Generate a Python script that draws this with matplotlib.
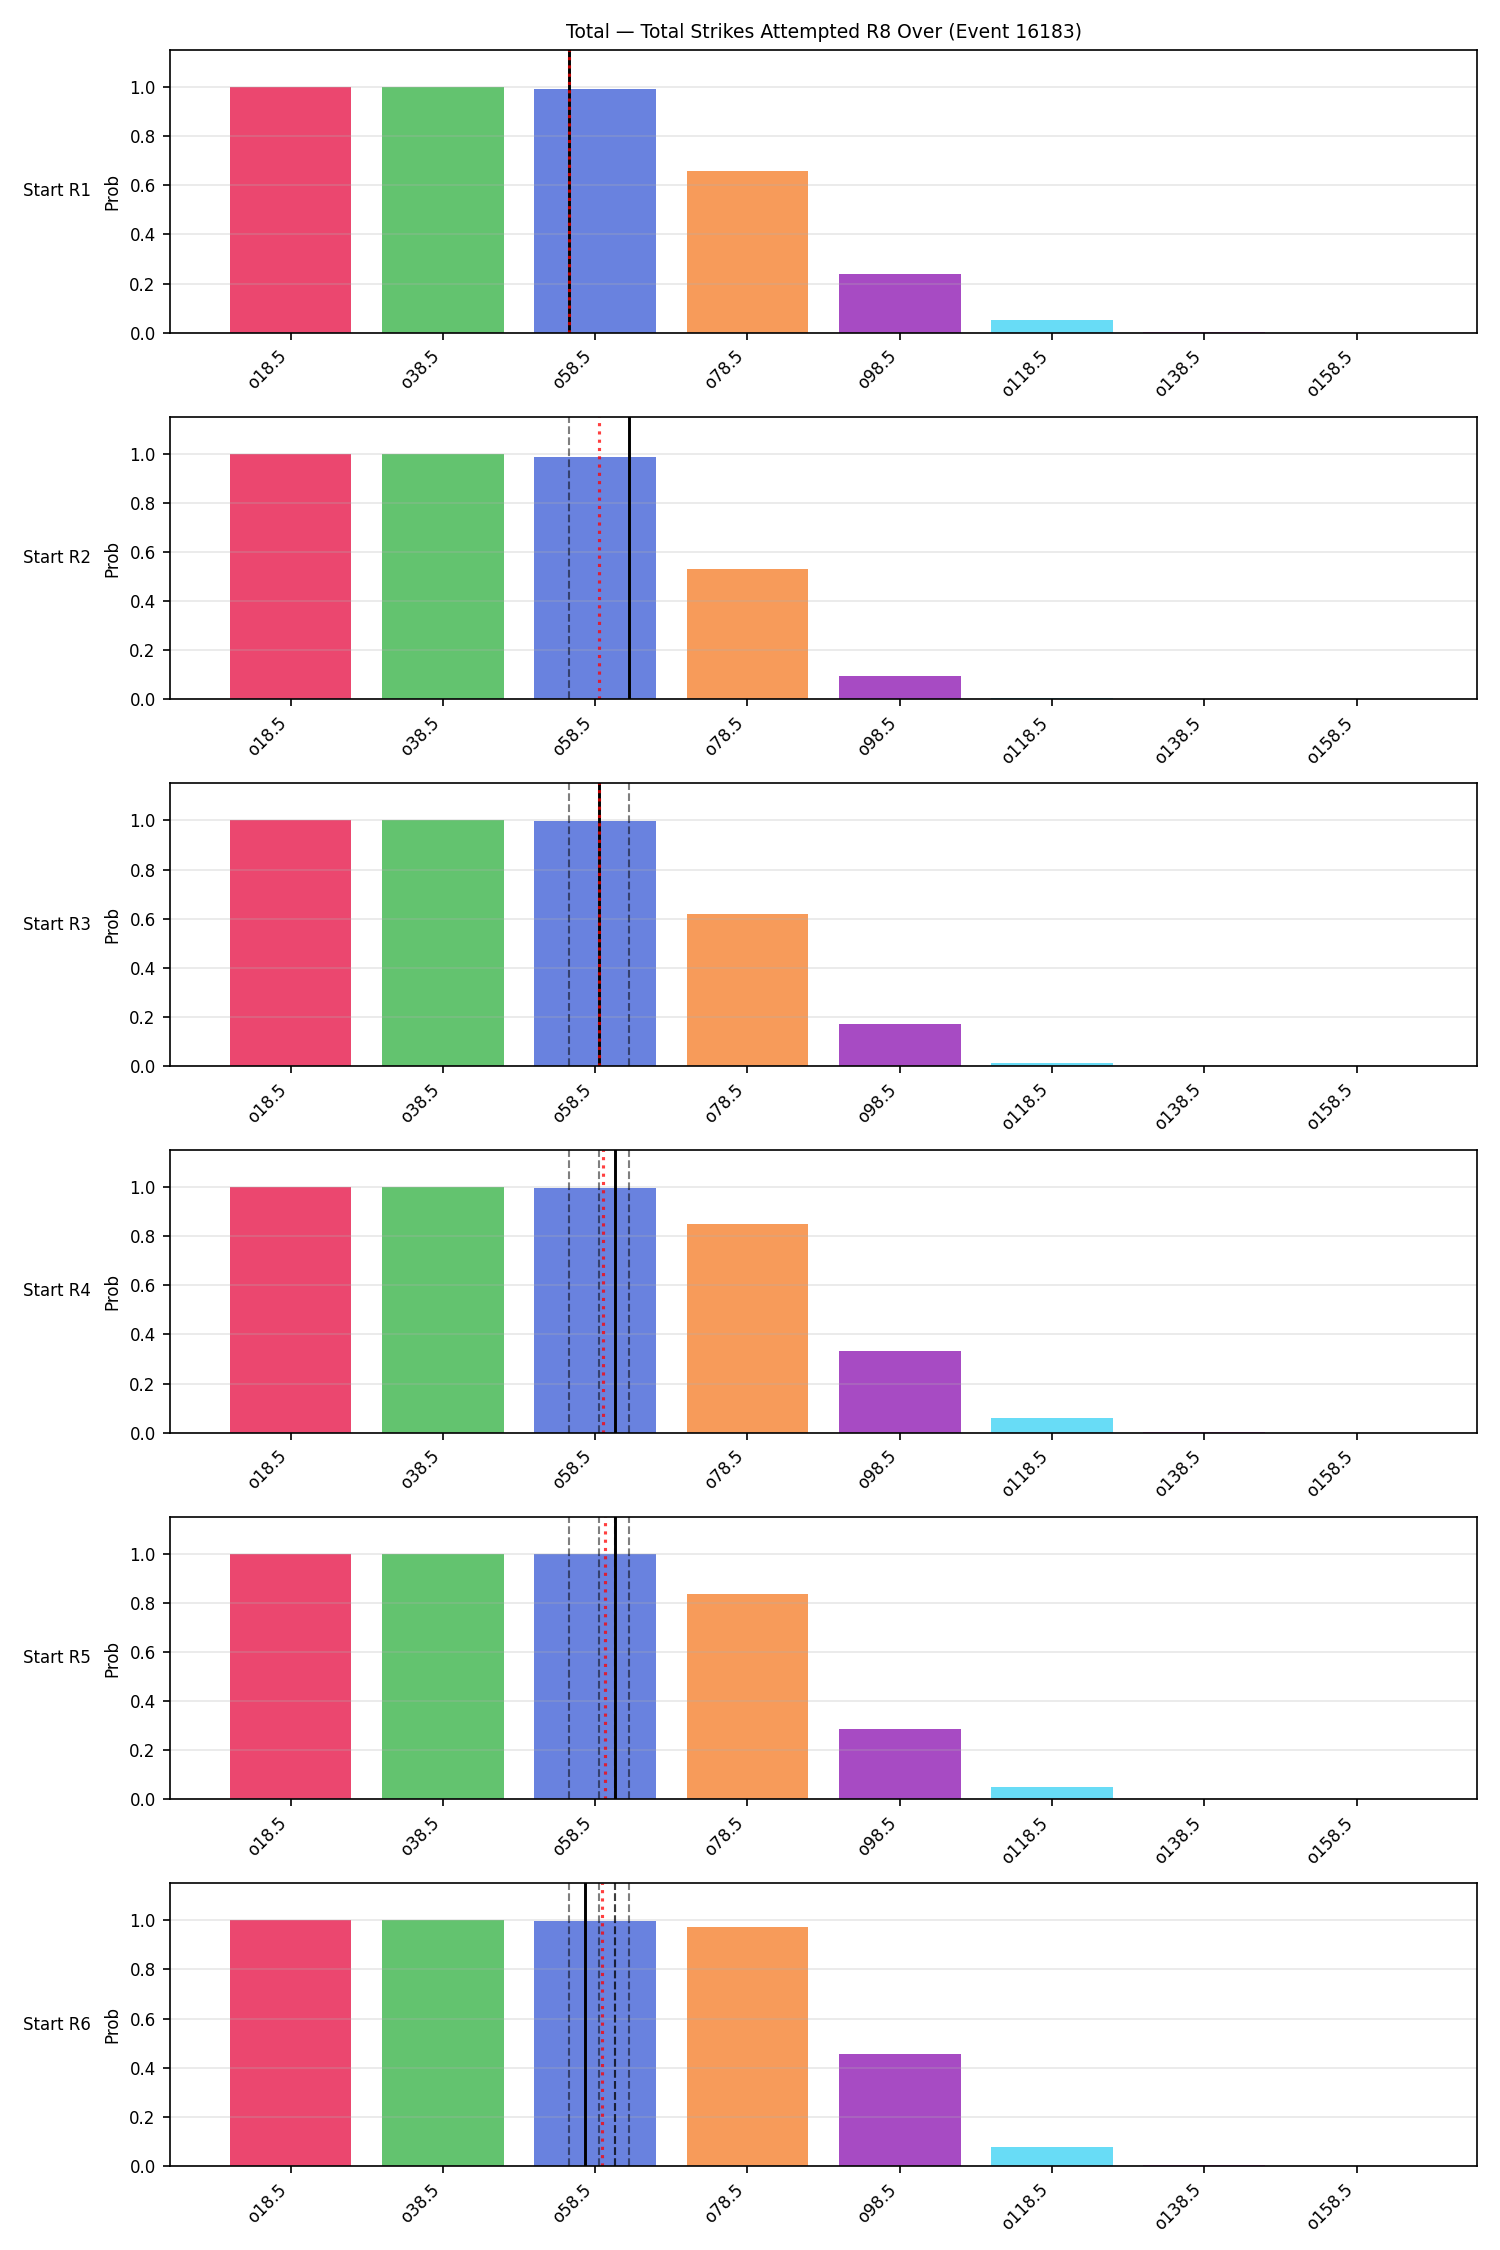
import matplotlib
matplotlib.use("Agg")
import matplotlib.pyplot as plt
import numpy as np

TITLE = "Total \u2014 Total Strikes Attempted R8 Over (Event 16183)"
lines = ["o18.5", "o38.5", "o58.5", "o78.5", "o98.5", "o118.5", "o138.5", "o158.5"]
line_values = [18.5, 38.5, 58.5, 78.5, 98.5, 118.5, 138.5, 158.5]
rounds = ["Start R1", "Start R2", "Start R3", "Start R4", "Start R5", "Start R6"]

# P(over) per line, one list per round start
probs_r1 = [1.0, 1.0, 0.991, 0.657, 0.240, 0.053, 0.002, 0.0]
probs_r2 = [1.0, 1.0, 0.985, 0.530, 0.094, 0.006, 0.0, 0.0]
probs_r3 = [1.0, 1.0, 0.998, 0.620, 0.170, 0.011, 0.0, 0.0]
probs_r4 = [1.0, 1.0, 0.998, 0.850, 0.334, 0.059, 0.004, 0.0]
probs_r5 = [1.0, 1.0, 0.998, 0.834, 0.287, 0.050, 0.001, 0.0]
probs_r6 = [1.0, 1.0, 0.999, 0.972, 0.456, 0.079, 0.006, 0.0]
probs = [probs_r1, probs_r2, probs_r3, probs_r4, probs_r5, probs_r6]

# strike totals marked per round: current (solid), model mean (red dotted)
current = [55.0, 63.0, 59.0, 61.1, 61.1, 57.1]
model_mean = [55.0, 59.06, 59.0, 59.58, 59.85, 59.33]

colors = ["#e6194b", "#3cb44b", "#4363d8", "#f58231", "#911eb4", "#42d4f4",
          "#f032e6", "#bfef45"]


def to_pos(v):
    # strike value -> position on the categorical line axis
    return np.interp(v, line_values, np.arange(len(line_values)))


fig, axes = plt.subplots(len(rounds), 1, figsize=(10, 15), dpi=150)
fig.subplots_adjust(left=0.1135, right=0.9847, top=0.9777, bottom=0.0373, hspace=0.2975)
x = np.arange(len(lines))
for k, ax in enumerate(axes):
    ax.bar(x, probs[k], width=0.8, color=colors, alpha=0.8)
    for prev in current[:k]:
        ax.axvline(to_pos(prev), color="black", ls="--", lw=1.0, alpha=0.5)
    ax.axvline(to_pos(current[k]), color="black", lw=1.4)
    ax.axvline(to_pos(model_mean[k]), color="red", ls=":", lw=1.5, alpha=0.75)
    ax.set_ylim(0, 1.15)
    ax.set_xticks(x)
    ax.set_xticklabels(lines, rotation=45, ha="right", fontsize=8)
    ax.tick_params(axis="y", labelsize=8)
    ax.set_ylabel("Prob", fontsize=8)
    ax.grid(axis="y", alpha=0.3)
    ax.text(-0.0607, 0.5, rounds[k], transform=ax.transAxes, ha="right", va="center",
            fontsize=8)

axes[0].set_title(TITLE, fontsize=9)
fig.savefig("out.png", dpi=150)
plt.close(fig)
